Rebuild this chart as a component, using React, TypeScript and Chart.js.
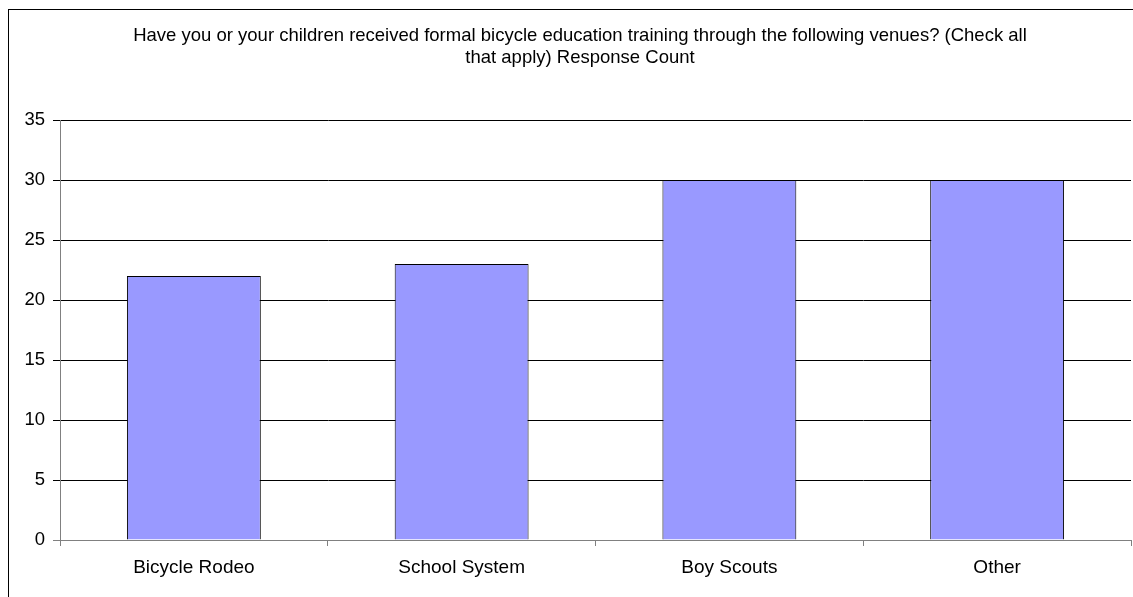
import React, { useEffect, useRef } from "react";
import { Chart, registerables } from "chart.js";

Chart.register(...registerables);

const TITLE_LINES = [
  "Have you or your children received formal bicycle education training through the following venues? (Check all",
  "that apply) Response Count",
];
const CATEGORIES = ["Bicycle Rodeo", "School System", "Boy Scouts", "Other"];
const RESPONSE_COUNT = [22, 23, 30, 30];
const Y_MIN = 0;
const Y_MAX = 35;
const Y_STEP = 5;

const FONT_FAMILY = '"Liberation Sans", Arial, Helvetica, sans-serif';

const titlePlugin = {
  id: "customTitle",
  afterDraw(chart: any) {
    const ctx = chart.ctx;
    ctx.save();
    ctx.font = `18.5px ${FONT_FAMILY}`;
    ctx.fillStyle = "#000";
    ctx.textAlign = "center";
    ctx.textBaseline = "middle";
    TITLE_LINES.forEach((line, i) => ctx.fillText(line, 580, 36 + i * 22));
    ctx.restore();
  },
};

export default function App() {
  const canvasRef = useRef<HTMLCanvasElement | null>(null);

  useEffect(() => {
    const canvas = canvasRef.current;
    if (!canvas) return;
    const chart = new Chart(canvas, {
      type: "bar",
      data: {
        labels: CATEGORIES,
        datasets: [
          {
            label: "Response Count",
            data: RESPONSE_COUNT,
            backgroundColor: "#9999FF",
            borderColor: "#000000",
            borderWidth: 1,
            barPercentage: 0.5,
            categoryPercentage: 1.0,
          },
        ],
      },
      options: {
        responsive: false,
        animation: false,
        devicePixelRatio: 1,
        layout: { padding: { top: 120, left: 0, right: 2, bottom: 0 } },
        plugins: {
          legend: { display: false },
          title: { display: false },
          tooltip: { enabled: false },
        },
        font: { family: FONT_FAMILY, size: 18 },
        scales: {
          x: {
            type: "category",
            offset: true,
            grid: {
              offset: true,
              drawOnChartArea: false,
              drawTicks: true,
              tickLength: 6,
              color: "#808080",
            },
            border: { display: true, color: "#808080", width: 1 },
            ticks: {
              color: "#000",
              font: { family: FONT_FAMILY, size: 19 },
              padding: 10,
              maxRotation: 0,
              autoSkip: false,
            },
            afterFit: (scale: any) => {
              scale.height = 57;
            },
          },
          y: {
            min: Y_MIN,
            max: Y_MAX,
            grid: {
              color: (ctx: any) => (ctx.tick && ctx.tick.value === 0 ? "#808080" : "#000000"),
              tickLength: 7,
              drawTicks: true,
            },
            border: { display: true, color: "#808080", width: 1 },
            ticks: {
              stepSize: Y_STEP,
              color: "#000",
              font: { family: FONT_FAMILY, size: 18.5 },
              padding: 8,
            },
            afterFit: (scale: any) => {
              scale.width = 60;
            },
          },
        },
      },
      plugins: [titlePlugin],
    } as any);
    return () => chart.destroy();
  }, []);

  return (
    <div
      style={{
        position: "fixed",
        left: 0,
        top: 0,
        width: 1133,
        height: 597,
        overflow: "hidden",
        background: "#fff",
      }}
    >
      <canvas
        ref={canvasRef}
        width={1133}
        height={597}
        style={{ position: "absolute", left: 0, top: 0, width: 1133, height: 597 }}
      />
      <div
        style={{
          position: "absolute",
          left: 8,
          top: 9,
          width: 1200,
          height: 700,
          borderLeft: "1px solid #000",
          borderTop: "1px solid #000",
          pointerEvents: "none",
        }}
      />
    </div>
  );
}
